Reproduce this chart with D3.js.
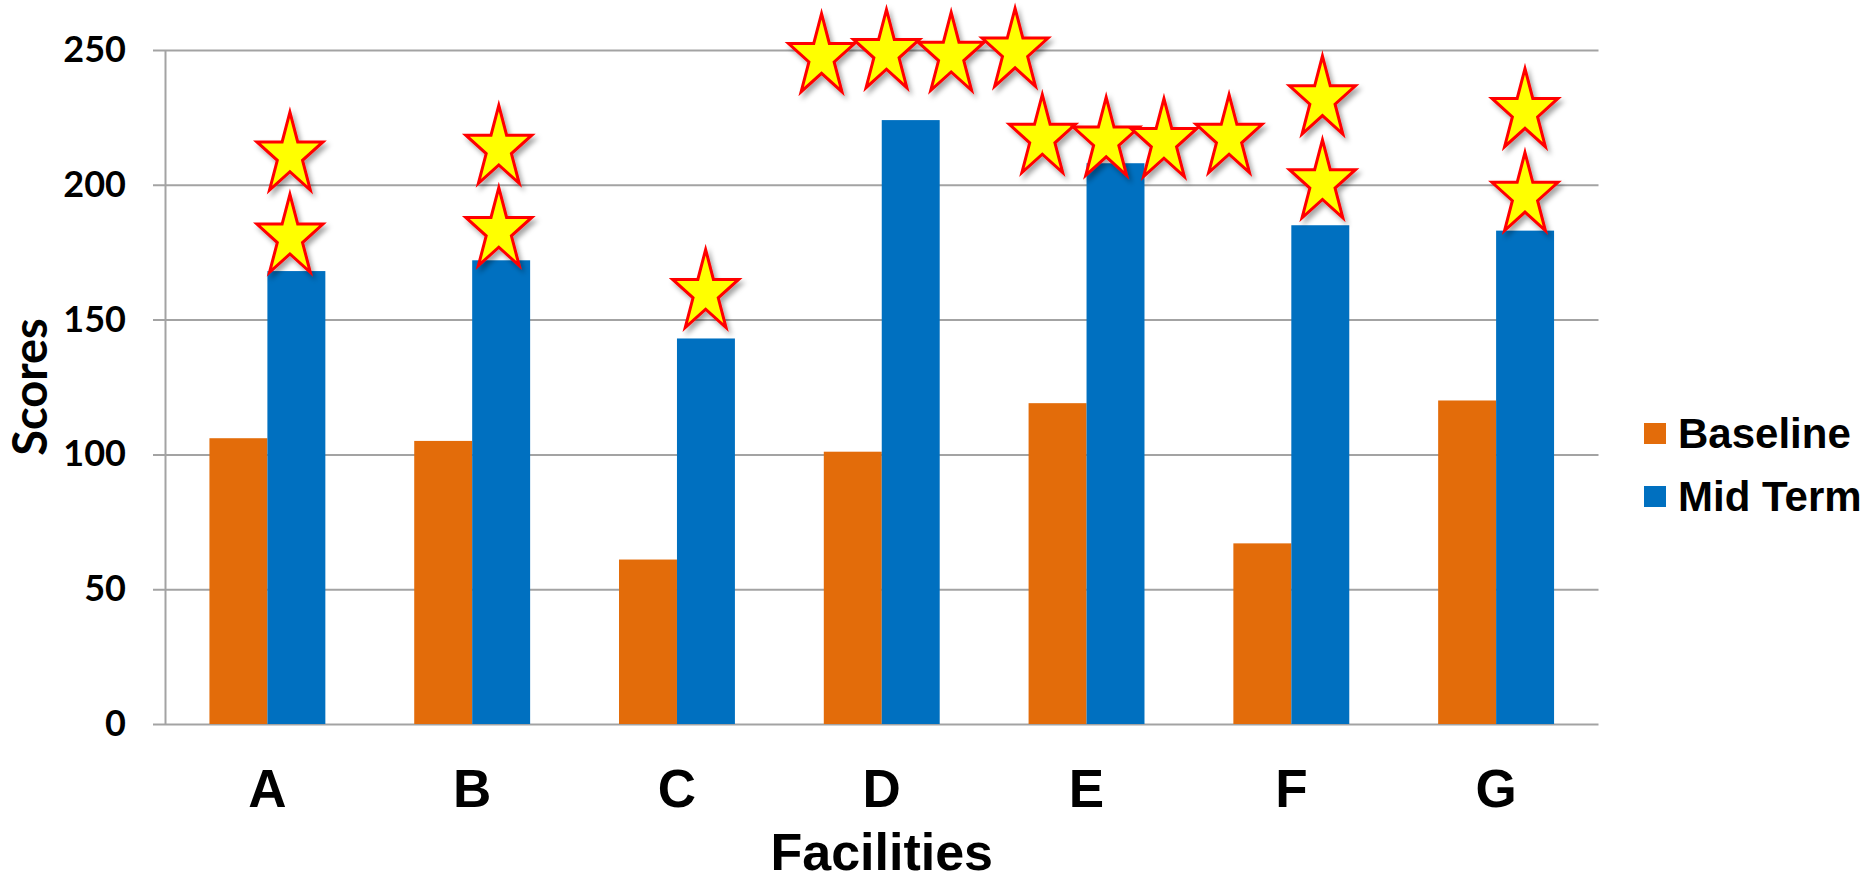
<!DOCTYPE html>
<html><head><meta charset="utf-8">
<script src="https://cdn.jsdelivr.net/npm/d3@7"></script>
<style>body{margin:0;background:#fff;overflow:hidden}</style>
</head><body>
<svg id="chart" width="1872" height="881"></svg>
<script>
// ---- data ----
const categories = ['A','B','C','D','E','F','G'];
const seriesNames = ['Baseline','Mid Term'];
const baseline = [106,105,61,101,119,67,120];
const midTerm = [168,172,143,224,208,185,183];
const yTicks = [0,50,100,150,200,250];
// star annotations: category, shift from group centre (in category steps), score at star centre
const starCategory = ['A','A','B','B','C','D','D','D','D','E','E','E','E','F','F','G','G'];
const starShift = [0.11,0.11,0.13,0.13,0.14,-0.294,0.023,0.339,0.651,-0.216,0.096,0.378,0.696,0.152,0.152,0.141,0.141];
const starScore = [212.5,182,215,184.5,161.5,249,250.5,249.5,251,219,218,217.5,219,233.3,202.2,228.6,197.5];

const colors = {'Baseline':'#E36C0A','Mid Term':'#0070C0'};

const W = 1872, H = 881;
const svg = d3.select('#chart');
svg.append('rect').attr('width',W).attr('height',H).attr('fill','#fff');

const defs = svg.append('defs');
const f = defs.append('filter').attr('id','shadow').attr('x','-30%').attr('y','-30%').attr('width','160%').attr('height','160%');
f.append('feDropShadow').attr('dx',3).attr('dy',4).attr('stdDeviation',2.5).attr('flood-color','#000').attr('flood-opacity',0.35);

const plotLeft = 165, plotRight = 1598.5, plotTop = 50, plotBottom = 724;
const x0 = d3.scaleBand().domain(categories).range([plotLeft, plotRight]).paddingInner(0.434).paddingOuter(0.217);
const x1 = d3.scaleBand().domain(seriesNames).range([0, x0.bandwidth()]);
const y = d3.scaleLinear().domain([0,250]).range([plotBottom, plotTop]);

// gridlines + y tick labels
const yAxis = d3.axisLeft(y).tickValues(yTicks).tickSize(-(plotRight-153)).tickPadding(27);
const gy = svg.append('g').attr('transform','translate(153,0)').call(yAxis);
gy.select('.domain').remove();
gy.selectAll('.tick line').attr('stroke','#a3a3a3').attr('stroke-width',2);
gy.selectAll('.tick text').attr('font-family','Lato, "Open Sans", sans-serif').attr('font-weight','bold')
  .attr('font-size',36).attr('fill','#000');

// vertical axis line
svg.append('line').attr('x1',plotLeft+0.5).attr('x2',plotLeft+0.5).attr('y1',y(250)).attr('y2',y(0))
  .attr('stroke','#a3a3a3').attr('stroke-width',2);

// bars
const rows = categories.map((c,i)=>({cat:c, values:[{s:'Baseline',v:baseline[i]},{s:'Mid Term',v:midTerm[i]}]}));
const groups = svg.append('g').selectAll('g').data(rows).join('g')
  .attr('transform', d=>`translate(${x0(d.cat)},0)`);
groups.selectAll('rect').data(d=>d.values).join('rect')
  .attr('x', d=>x1(d.s)).attr('width', x1.bandwidth())
  .attr('y', d=>y(d.v)).attr('height', d=>y(0)-y(d.v))
  .attr('fill', d=>colors[d.s]);

// x axis labels
const xAxis = d3.axisBottom(x0).tickSize(0).tickPadding(45);
const gx = svg.append('g').attr('transform',`translate(0,${plotBottom})`).call(xAxis);
gx.select('.domain').remove();
gx.selectAll('.tick text').attr('font-family','"Liberation Sans", Arial, sans-serif').attr('font-weight','bold')
  .attr('font-size',53).attr('fill','#000');

// axis titles
svg.append('text').attr('x',(plotLeft+plotRight)/2).attr('y',870).attr('text-anchor','middle')
  .attr('font-family','"Liberation Sans", Arial, sans-serif').attr('font-weight','bold').attr('font-size',52)
  .text('Facilities');
svg.append('text').attr('transform','translate(47,387) rotate(-90)').attr('text-anchor','middle')
  .attr('font-family','Lato, "Open Sans", sans-serif').attr('font-weight','bold').attr('font-size',47)
  .text('Scores');

// stars
const unitPts = d3.range(10).map(k=>{
  const a = (-90 + k*36) * Math.PI/180;
  const r = k%2===0 ? 1 : 0.382;
  return [r*Math.cos(a), r*Math.sin(a)];
});
const starW = 66, starH = 78;
const sx = starW/1.902, sy = starH/1.809;
function starPath(cx, cy){
  return 'M' + unitPts.map(p=>[cx+sx*p[0], cy+sy*(p[1]+0.0955)].join(',')).join('L') + 'Z';
}
const stars = starCategory.map((c,i)=>({cat:c, shift:starShift[i], v:starScore[i]}));
svg.append('g').attr('filter','url(#shadow)').selectAll('path').data(stars).join('path')
  .attr('d', d=>starPath(x0(d.cat)+x0.bandwidth()/2 + d.shift*x0.step(), y(d.v)))
  .attr('fill','#FFFF00').attr('stroke','#FF0000').attr('stroke-width',3).attr('stroke-linejoin','miter');

// legend
const leg = svg.append('g').selectAll('g').data(seriesNames).join('g')
  .attr('transform',(d,i)=>`translate(1644,${423 + i*63})`);
leg.append('rect').attr('width',22).attr('height',21).attr('fill',d=>colors[d]);
leg.append('text').attr('x',34).attr('y',25).attr('font-family','"Liberation Sans", Arial, sans-serif')
  .attr('font-weight','bold').attr('font-size',42).attr('fill','#000').text(d=>d);
</script>
</body></html>
